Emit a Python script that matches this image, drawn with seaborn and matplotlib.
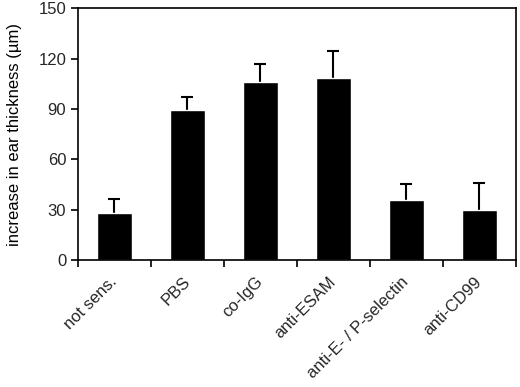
"""Ear thickness increase per treatment group (bar chart with upper error bars)."""

import matplotlib
matplotlib.use("Agg")
import matplotlib.pyplot as plt
import matplotlib.transforms as mtransforms
import numpy as np
import pandas as pd
import seaborn as sns

groups = ["not sens.", "PBS", "co-IgG", "anti-ESAM", "anti-E- / P-selectin", "anti-CD99"]
means = [28, 89.5, 106, 108.5, 36, 30]
errors = [8.5, 7.5, 11, 16, 9.5, 16]
y_ticks = [0, 30, 60, 90, 120, 150]


def main() -> None:
    df = pd.DataFrame({"group": groups, "mean": means, "err": errors})
    sns.set_theme(style="white")
    plt.rcParams["font.family"] = ["Liberation Sans", "DejaVu Sans"]

    fig = plt.figure(figsize=(5.2, 3.87), dpi=100)
    ax = fig.add_axes([0.15, 0.328, 0.842, 0.651])

    sns.barplot(data=df, x="group", y="mean", color="black", width=0.47,
                saturation=1, ax=ax, zorder=2)
    x = np.arange(len(groups))
    # drawn behind the bars so only the upper half shows
    ax.errorbar(x, df["mean"], yerr=[df["err"], df["err"]],
                fmt="none", ecolor="black", elinewidth=1.5, capsize=4,
                capthick=1.5, zorder=1)

    ax.set_xlim(-0.5, len(groups) - 0.5)
    ax.set_ylim(0, 150)
    ax.set_yticks(y_ticks)
    ax.set_ylabel("increase in ear thickness (µm)", fontsize=12, color="black",
                  labelpad=12)
    ax.set_xlabel("")

    # labels at bar centres, tick marks between bars
    ax.set_xticks(x)
    ax.set_xticklabels(groups, rotation=45, ha="right", va="center",
                       rotation_mode="anchor", fontsize=12)
    shift = mtransforms.ScaledTranslation(-0.08, 0, fig.dpi_scale_trans)
    for lbl in ax.get_xticklabels():
        lbl.set_transform(lbl.get_transform() + shift)
    ax.set_xticks(np.arange(len(groups) + 1) - 0.5, minor=True)
    ax.tick_params(axis="x", which="major", length=0, pad=14)
    ax.tick_params(axis="x", which="minor", length=5, width=1.2, direction="out",
                   bottom=True, color="black")
    ax.tick_params(axis="y", length=5, width=1.2, direction="out", left=True,
                   labelsize=12, color="black")

    for side in ["left", "bottom", "top", "right"]:
        ax.spines[side].set_color("black")
        ax.spines[side].set_linewidth(1.2)

    fig.savefig("out.png", dpi=100)
    plt.close(fig)


if __name__ == "__main__":
    main()
